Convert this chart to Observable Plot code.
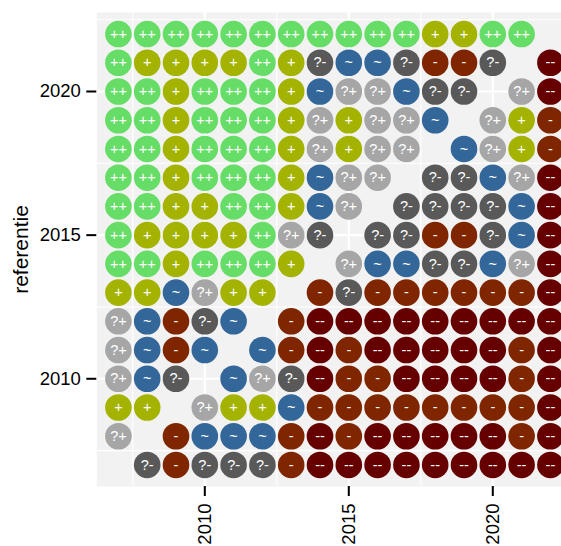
<!DOCTYPE html>
<html>
<head>
<meta charset="utf-8">
<script src="https://cdn.jsdelivr.net/npm/d3@7"></script>
<script src="https://cdn.jsdelivr.net/npm/@observablehq/plot@0.6"></script>
<style>
  html, body { margin: 0; padding: 0; background: #ffffff; overflow: hidden; }
  #chart svg { display: block; overflow: hidden; }
</style>
</head>
<body>
<div id="chart"></div>
<script>
// x (columns) and y (rows, "referentie") years
const years = [2007, 2008, 2009, 2010, 2011, 2012, 2013, 2014, 2015, 2016, 2017, 2018, 2019, 2020, 2021, 2022];
const categories = ["++", "+", "~", "?+", "?-", "-", "--"];
const colors = ["#66dd66", "#a3b300", "#336699", "#a6a6a6", "#595959", "#7f2600", "#660000"];
const majorTicks = [2010, 2015, 2020];
const minorTicks = [2007.5, 2012.5, 2017.5, 2022.5];

// one array per referentie year, values per x year 2007..2022 ("" = no dot)
const row2022 = ["++","++","++","++","++","++","++","++","++","++","++","+","+","++","++",""];
const row2021 = ["++","+","+","+","+","++","+","?-","~","~","?-","-","-","?-","","--"];
const row2020 = ["++","++","+","++","++","++","+","~","?+","?+","~","?-","?-","","?+","--"];
const row2019 = ["++","++","+","++","++","++","+","?+","+","?+","?+","~","","?+","+","-"];
const row2018 = ["++","++","+","++","++","++","+","?+","+","?+","?+","","~","?+","+","-"];
const row2017 = ["++","++","+","++","++","++","+","~","?+","?+","","?-","?-","~","?+","--"];
const row2016 = ["++","++","+","+","++","++","+","~","?+","","?-","?-","?-","?-","~","--"];
const row2015 = ["++","+","+","+","+","++","?+","?-","","?-","?-","-","-","?-","~","--"];
const row2014 = ["++","++","+","++","++","++","+","","?+","~","~","?-","?-","~","?+","--"];
const row2013 = ["+","+","~","?+","+","+","","-","?-","-","-","-","-","-","-","--"];
const row2012 = ["?+","~","-","?-","~","","-","--","--","--","--","--","--","--","--","--"];
const row2011 = ["?+","~","-","~","","~","-","--","-","--","--","--","--","--","-","--"];
const row2010 = ["?+","~","?-","","~","?+","?-","--","-","-","--","--","--","--","-","--"];
const row2009 = ["+","+","","?+","+","+","~","-","-","-","-","-","-","-","-","--"];
const row2008 = ["?+","","-","~","~","~","-","--","-","--","--","--","--","--","-","--"];
const row2007 = ["","?-","-","?-","?-","?-","-","--","--","--","--","--","--","--","--","--"];

const rows = [row2007, row2008, row2009, row2010, row2011, row2012, row2013, row2014,
              row2015, row2016, row2017, row2018, row2019, row2020, row2021, row2022];

const data = [];
rows.forEach((row, i) => {
  row.forEach((c, j) => {
    if (c) data.push({x: years[j], y: years[i], c});
  });
});

const font = "'Liberation Sans', Arial, sans-serif";

const chart = Plot.plot({
  width: 561,
  height: 546,
  marginLeft: 96.3,
  marginRight: -10.5,
  marginTop: 12,
  marginBottom: 60,
  style: {fontFamily: font, background: "#ffffff", color: "#000000"},
  x: {domain: [2006.25, 2022.75]},
  y: {domain: [2006.25, 2022.75]},
  color: {domain: categories, range: colors},
  marks: [
    Plot.frame({fill: "#f2f2f2", stroke: null}),
    Plot.ruleX(minorTicks, {x: d => d, stroke: "#ffffff", strokeWidth: 1.1}),
    Plot.ruleY(minorTicks, {y: d => d, stroke: "#ffffff", strokeWidth: 1.1}),
    Plot.ruleX(majorTicks, {x: d => d, stroke: "#ffffff", strokeWidth: 2.2}),
    Plot.ruleY(majorTicks, {y: d => d, stroke: "#ffffff", strokeWidth: 2.2}),
    Plot.dot(data, {x: "x", y: "y", r: 13.3, fill: "c", stroke: null}),
    Plot.text(data, {x: "x", y: "y", text: "c", fill: "#ffffff", fontSize: 14.5}),
    Plot.axisX(majorTicks, {
      tickSize: 10, tickPadding: 7, strokeWidth: 2, stroke: "#000000",
      tickRotate: -90, fontSize: 18.5, fill: "#000000", label: null, tickFormat: d => String(d)
    }),
    Plot.axisY(majorTicks, {
      tickSize: 10, tickPadding: 6, strokeWidth: 2, stroke: "#000000",
      fontSize: 18.5, fill: "#000000", label: null, tickFormat: d => String(d)
    }),
    Plot.text(["referentie"], {
      frameAnchor: "left", dx: -76, rotate: -90, textAnchor: "middle",
      fontSize: 21, fill: "#000000", text: d => d
    })
  ]
});

document.getElementById("chart").appendChild(chart);
</script>
</body>
</html>
